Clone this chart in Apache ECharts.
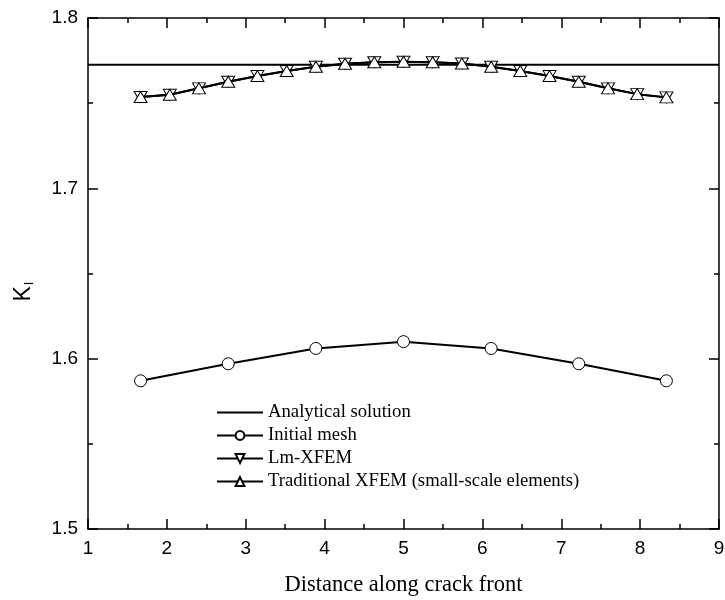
<!DOCTYPE html>
<html><head><meta charset="utf-8">
<script src="https://cdn.jsdelivr.net/npm/echarts@6/dist/echarts.min.js"></script>
<style>html,body{margin:0;padding:0;background:#fff}#c{width:725px;height:600px}</style>
</head><body><div id="c"></div>
<script>
const xTicks = [1, 2, 3, 4, 5, 6, 7, 8, 9];
const yTicks = [1.5, 1.6, 1.7, 1.8];
const analyticalX = [1, 9];
const analyticalY = [1.7725, 1.7725];
const initialX = [1.667, 2.778, 3.889, 5.0, 6.111, 7.222, 8.333];
const initialY = [1.587, 1.597, 1.606, 1.610, 1.606, 1.597, 1.587];
const refinedX = [1.667, 2.037, 2.407, 2.778, 3.148, 3.519, 3.889, 4.259, 4.630, 5.0, 5.370, 5.741, 6.111, 6.481, 6.852, 7.222, 7.593, 7.963, 8.333];
const lmY = [1.7536, 1.7549, 1.7587, 1.7626, 1.7659, 1.7689, 1.7714, 1.7731, 1.7740, 1.7743, 1.7740, 1.7733, 1.7714, 1.7689, 1.7659, 1.7626, 1.7587, 1.7553, 1.7534];
const tradY = [1.7536, 1.7549, 1.7587, 1.7626, 1.7659, 1.7689, 1.7714, 1.7731, 1.7740, 1.7743, 1.7740, 1.7733, 1.7714, 1.7689, 1.7659, 1.7626, 1.7587, 1.7553, 1.7534];
const names = ['Analytical solution', 'Initial mesh', 'Lm-XFEM', 'Traditional XFEM (small-scale elements)'];

const zip = (xs, ys) => xs.map((x, i) => [x, ys[i]]);
const chart = echarts.init(document.getElementById('c'));
const axisCommon = {
  axisLine: { show: true, onZero: false, lineStyle: { color: '#000', width: 1.5 } },
  axisTick: { show: true, inside: true, length: 10, lineStyle: { color: '#000', width: 1.5 } },
  minorTick: { show: true, splitNumber: 2, length: 5, lineStyle: { color: '#000', width: 1.5 } },
  splitLine: { show: false }
};
const lineStyle = { color: '#000', width: 2 };
const symStyle = { color: '#fff', borderColor: '#000', borderWidth: 1 };
chart.setOption({
  animation: false,
  grid: { left: 88, right: 6, top: 18, bottom: 71, containLabel: false, outerBoundsMode: 'none' },
  legend: {
    orient: 'vertical', left: 211, top: 398, itemWidth: 46, itemHeight: 11, itemGap: 4,
    textStyle: { fontFamily: 'Liberation Serif', fontSize: 18.7, color: '#000' },
    data: names
  },
  xAxis: [
    Object.assign({}, axisCommon, {
      type: 'value', min: xTicks[0], max: xTicks[xTicks.length - 1], interval: 1, position: 'bottom',
      name: 'Distance along crack front', nameLocation: 'middle', nameGap: 45,
      nameTextStyle: { fontFamily: 'Liberation Serif', fontSize: 22.5, color: '#000' },
      axisLabel: { fontFamily: 'Liberation Sans', fontSize: 19, color: '#000', margin: 10 }
    }),
    Object.assign({}, axisCommon, {
      type: 'value', min: xTicks[0], max: xTicks[xTicks.length - 1], interval: 1, position: 'top',
      axisLabel: { show: false }
    })
  ],
  yAxis: [
    Object.assign({}, axisCommon, {
      type: 'value', min: yTicks[0], max: yTicks[yTicks.length - 1], interval: 0.1, position: 'left',
      name: 'K{s|I}', nameLocation: 'middle', nameGap: 52, nameRotate: 90,
      nameTextStyle: { fontFamily: 'Liberation Sans', fontSize: 23, color: '#000', padding: [0, 36, 0, 0],
        rich: { s: { fontFamily: 'Liberation Sans', fontSize: 13, verticalAlign: 'bottom', padding: [12, 0, 0, 1] } } },
      axisLabel: { fontFamily: 'Liberation Sans', fontSize: 19, color: '#000', margin: 10,
        formatter: v => v.toFixed(1) }
    }),
    Object.assign({}, axisCommon, {
      type: 'value', min: yTicks[0], max: yTicks[yTicks.length - 1], interval: 0.1, position: 'right',
      axisLabel: { show: false }
    })
  ],
  series: [
    { name: names[0], type: 'line', data: zip(analyticalX, analyticalY), symbol: 'line', showSymbol: false, lineStyle: lineStyle, itemStyle: { color: '#000' }, z: 1 },
    { name: names[1], type: 'line', data: zip(initialX, initialY), symbol: 'circle', symbolSize: 12, lineStyle: lineStyle, itemStyle: symStyle, z: 2 },
    { name: names[2], type: 'line', data: zip(refinedX, lmY), symbol: 'triangle', symbolRotate: 180, symbolSize: [13, 11], lineStyle: lineStyle, itemStyle: symStyle, z: 3 },
    { name: names[3], type: 'line', data: zip(refinedX, tradY), symbol: 'triangle', symbolSize: [13, 11], lineStyle: lineStyle, itemStyle: symStyle, z: 4 }
  ]
});
</script></body></html>
